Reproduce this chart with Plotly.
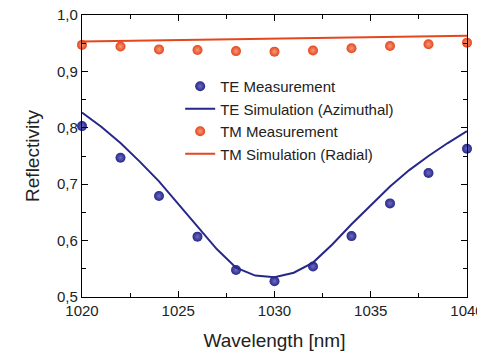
import plotly.graph_objects as go

wl_meas = [1020, 1022, 1024, 1026, 1028, 1030, 1032, 1034, 1036, 1038, 1040]
te_meas = [0.803, 0.747, 0.679, 0.607, 0.548, 0.528, 0.554, 0.608, 0.666, 0.720, 0.763]
tm_meas = [0.947, 0.944, 0.939, 0.938, 0.936, 0.935, 0.937, 0.941, 0.945, 0.948, 0.951]

wl_sim = [1020, 1021, 1022, 1023, 1024, 1025, 1026, 1027, 1028, 1029, 1030,
          1031, 1032, 1033, 1034, 1035, 1036, 1037, 1038, 1039, 1040]
te_sim = [0.827, 0.802, 0.773, 0.740, 0.705, 0.665, 0.623, 0.585, 0.552, 0.538, 0.535,
          0.543, 0.561, 0.593, 0.629, 0.663, 0.696, 0.725, 0.750, 0.773, 0.794]
tm_sim_wl = [1020, 1040]
tm_sim = [0.953, 0.963]

TE_COL = "#27278a"
TM_COL = "#e5461c"
FONT = "Liberation Sans, Arial, sans-serif"

fig = go.Figure()
fig.add_trace(go.Scatter(
    x=wl_meas, y=te_meas, mode="markers", name="TE Measurement",
    marker=dict(size=10, color=TE_COL, line=dict(width=0),
                gradient=dict(type="radial", color="#6c6cc0")),
    cliponaxis=False))
fig.add_trace(go.Scatter(
    x=wl_sim, y=te_sim, mode="lines", name="TE Simulation (Azimuthal)",
    line=dict(color=TE_COL, width=2)))
fig.add_trace(go.Scatter(
    x=wl_meas, y=tm_meas, mode="markers", name="TM Measurement",
    marker=dict(size=10, color=TM_COL, line=dict(width=0),
                gradient=dict(type="radial", color="#f59a7a")),
    cliponaxis=False))
fig.add_trace(go.Scatter(
    x=tm_sim_wl, y=tm_sim, mode="lines", name="TM Simulation (Radial)",
    line=dict(color=TM_COL, width=2)))

axis_common = dict(
    showline=True, linecolor="black", linewidth=1.3, mirror="ticks",
    ticks="inside", ticklen=6, tickwidth=1.2, tickcolor="black",
    showgrid=False, zeroline=False, ticklabeloverflow="allow", automargin=False,
    tickfont=dict(family=FONT, size=15, color="#222"),
)

fig.update_xaxes(
    range=[1020, 1040], dtick=5, tick0=1020,
    minor=dict(ticks="inside", ticklen=4, dtick=2.5, tick0=1020, tickcolor="black", showgrid=False),
    title=dict(text="Wavelength [nm]", font=dict(family=FONT, size=19, color="#222"), standoff=18),
    **axis_common)
fig.update_yaxes(
    range=[0.5, 1.0], dtick=0.1, tick0=0.5, tickformat=".1f",
    minor=dict(ticks="inside", ticklen=4, dtick=0.05, tick0=0.5, tickcolor="black", showgrid=False),
    title=dict(text="Reflectivity", font=dict(family=FONT, size=19, color="#222"), standoff=12),
    **axis_common)

fig.update_layout(
    width=477, height=351,
    margin=dict(l=82, r=10, t=15, b=54),
    paper_bgcolor="white", plot_bgcolor="white",
    separators=",.",
    showlegend=True,
    legend=dict(x=0.255, y=0.805, xanchor="left", yanchor="top",
                bgcolor="rgba(0,0,0,0)", borderwidth=0,
                font=dict(family=FONT, size=15, color="#222"),
                tracegroupgap=0, itemwidth=30),
    font=dict(family=FONT, color="#222"),
)

fig.write_html("out.html", config={"displayModeBar": False},
               post_script="document.body.style.margin='0';document.body.style.overflow='hidden';")
